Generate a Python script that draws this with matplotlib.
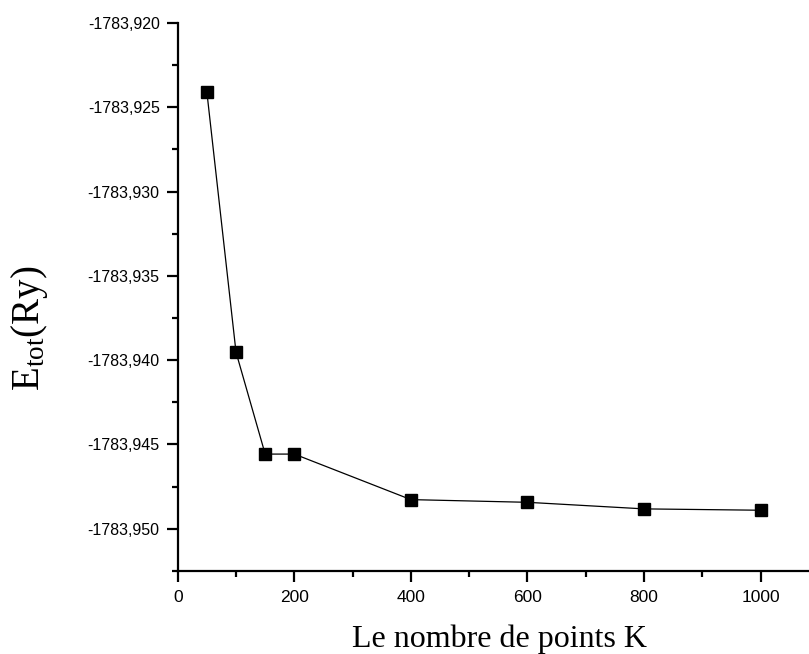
import matplotlib
matplotlib.use('Agg')
import matplotlib.pyplot as plt
from matplotlib.ticker import FuncFormatter, MultipleLocator

# k-points vs total energy
k_points = [50, 100, 150, 200, 400, 600, 800, 1000]
e_tot = [-1783.92411, -1783.93953, -1783.94557, -1783.94557,
         -1783.94827, -1783.94843, -1783.94882, -1783.94890]

plt.rcParams['mathtext.fontset'] = 'custom'
plt.rcParams['mathtext.rm'] = 'Liberation Serif'
plt.rcParams['mathtext.it'] = 'Liberation Serif:italic'

fig = plt.figure(figsize=(8.09, 6.54), dpi=100)
ax = fig.add_axes([0.2197, 0.127, 0.7803, 0.838])

ax.plot(k_points, e_tot, color='black', linewidth=0.9, marker='s',
        markersize=8, markerfacecolor='black', markeredgecolor='black')

ax.set_xlim(0, 1083)
ax.set_ylim(-1783.9525, -1783.920)

ax.xaxis.set_major_locator(MultipleLocator(200))
ax.xaxis.set_minor_locator(MultipleLocator(100))
ax.yaxis.set_major_locator(MultipleLocator(0.005))
ax.yaxis.set_minor_locator(MultipleLocator(0.0025))
ax.yaxis.set_major_formatter(FuncFormatter(lambda v, p: f"{v:.3f}".replace('.', ',')))

for side in ['top', 'right']:
    ax.spines[side].set_visible(False)
for side in ['left', 'bottom']:
    ax.spines[side].set_linewidth(1.6)

ax.tick_params(which='major', direction='out', length=8, width=1.6)
ax.tick_params(which='minor', direction='out', length=4.5, width=1.6)
ax.tick_params(axis='y', which='major', labelsize=11.5, pad=5)
ax.tick_params(axis='x', which='major', labelsize=12.5, pad=5.5)
for lbl in ax.get_xticklabels() + ax.get_yticklabels():
    lbl.set_fontfamily('Liberation Sans')

ax.set_xlabel('Le nombre de points K', fontsize=23, family='Liberation Serif')
ax.xaxis.label.set_va('baseline')
ax.xaxis.set_label_coords(0.509, -0.1385)

ax.set_ylabel(r'E$_{\rm tot}$(Ry)', fontsize=28, family='Liberation Serif')
ax.yaxis.set_label_coords(-0.2023, 0.443)

fig.savefig('out.png', dpi=100)
